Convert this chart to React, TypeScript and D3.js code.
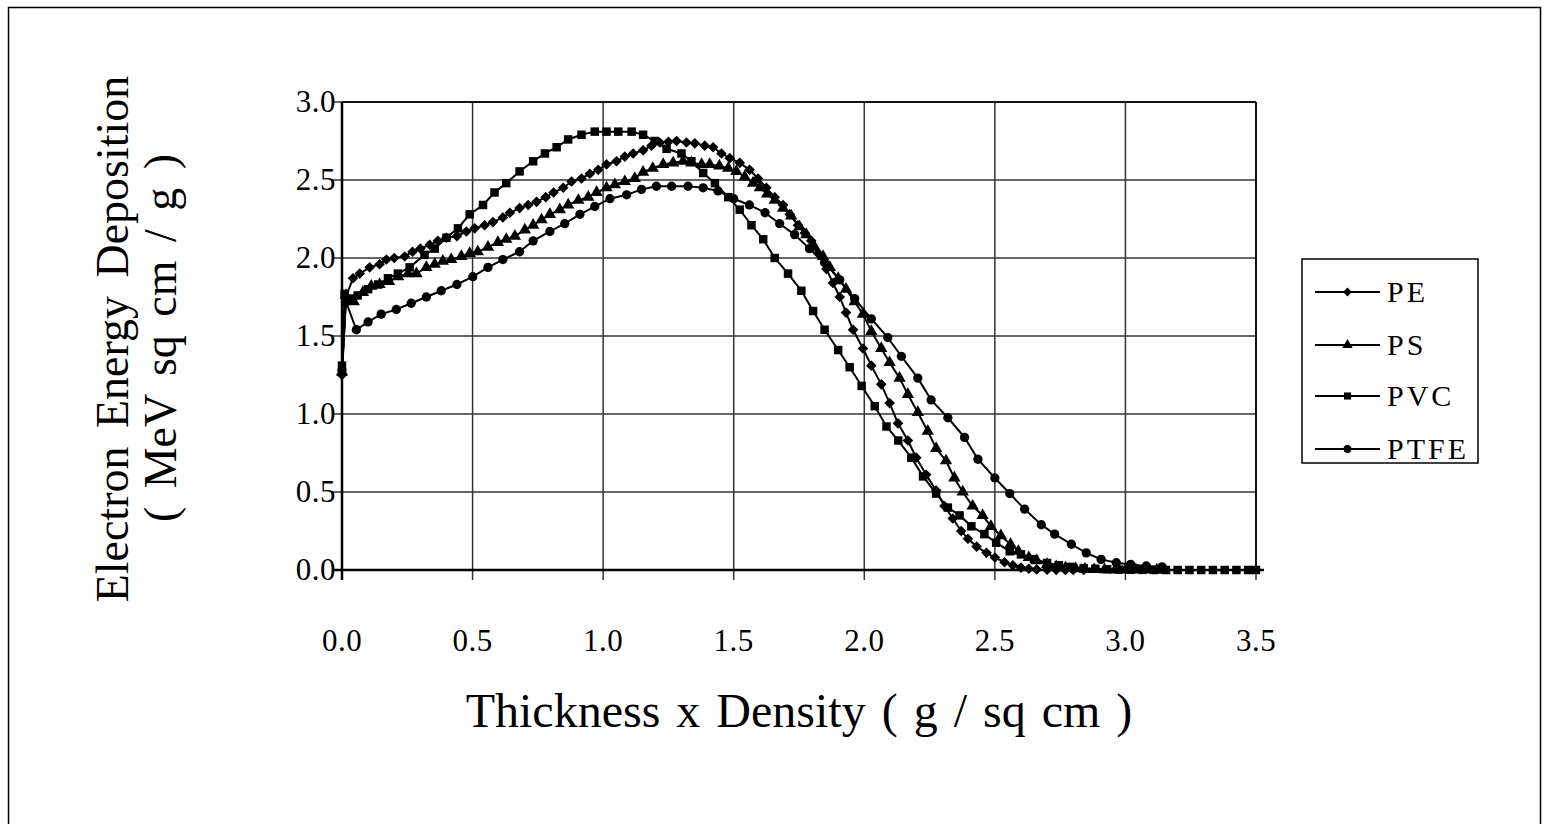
import React from 'react';
import * as d3 from 'd3';

// ---- Data ----
const peX = [0, 0.015, 0.042, 0.068, 0.106, 0.144, 0.17, 0.2, 0.24, 0.27, 0.3, 0.336, 0.367, 0.4, 0.44, 0.476, 0.508, 0.546, 0.578, 0.616, 0.643, 0.68, 0.713, 0.745, 0.78, 0.81, 0.847, 0.879, 0.917, 0.949, 0.981, 1.013, 1.051, 1.083, 1.115, 1.153, 1.185, 1.217, 1.25, 1.281, 1.319, 1.351, 1.389, 1.421, 1.453, 1.485, 1.523, 1.561, 1.593, 1.625, 1.657, 1.689, 1.714, 1.746, 1.772, 1.797, 1.823, 1.855, 1.88, 1.906, 1.93, 1.957, 1.995, 2.027, 2.065, 2.097, 2.129, 2.167, 2.199, 2.237, 2.275, 2.307, 2.339, 2.371, 2.397, 2.43, 2.468, 2.5, 2.537, 2.569, 2.6, 2.63, 2.66, 2.7, 2.735, 2.77, 2.8, 2.84];
const peY = [1.25, 1.75, 1.87, 1.9, 1.94, 1.96, 1.99, 2.0, 2.01, 2.04, 2.06, 2.085, 2.11, 2.13, 2.14, 2.17, 2.19, 2.21, 2.23, 2.26, 2.29, 2.32, 2.34, 2.36, 2.39, 2.42, 2.45, 2.49, 2.51, 2.54, 2.565, 2.6, 2.62, 2.65, 2.67, 2.69, 2.72, 2.74, 2.745, 2.75, 2.74, 2.735, 2.72, 2.71, 2.67, 2.64, 2.61, 2.565, 2.51, 2.45, 2.39, 2.34, 2.28, 2.21, 2.16, 2.11, 2.03, 1.93, 1.84, 1.75, 1.65, 1.54, 1.42, 1.31, 1.19, 1.07, 0.94, 0.83, 0.72, 0.61, 0.51, 0.41, 0.33, 0.25, 0.2, 0.15, 0.11, 0.08, 0.05, 0.03, 0.015, 0.008, 0.004, 0.002, 0.001, 0, 0, 0];

const psX = [0, 0.015, 0.045, 0.08, 0.112, 0.144, 0.18, 0.215, 0.253, 0.285, 0.323, 0.355, 0.386, 0.418, 0.457, 0.489, 0.52, 0.559, 0.597, 0.629, 0.662, 0.7, 0.732, 0.764, 0.796, 0.834, 0.866, 0.905, 0.943, 0.975, 1.013, 1.045, 1.083, 1.121, 1.153, 1.19, 1.23, 1.268, 1.306, 1.338, 1.377, 1.408, 1.445, 1.479, 1.51, 1.542, 1.574, 1.6, 1.628, 1.657, 1.689, 1.72, 1.752, 1.778, 1.81, 1.842, 1.868, 1.9, 1.93, 1.963, 1.995, 2.027, 2.065, 2.097, 2.135, 2.167, 2.205, 2.243, 2.275, 2.313, 2.345, 2.377, 2.415, 2.453, 2.485, 2.523, 2.56, 2.59, 2.63, 2.66, 2.7, 2.735, 2.77, 2.81, 2.845, 2.88, 2.92, 2.96, 3.0, 3.04, 3.08, 3.12, 3.15];
const psY = [1.27, 1.76, 1.72, 1.78, 1.82, 1.83, 1.85, 1.88, 1.9, 1.9, 1.94, 1.96, 1.98, 1.99, 2.01, 2.03, 2.04, 2.07, 2.1, 2.12, 2.14, 2.18, 2.21, 2.245, 2.28, 2.31, 2.34, 2.37, 2.39, 2.42, 2.45, 2.47, 2.49, 2.51, 2.55, 2.575, 2.6, 2.61, 2.62, 2.61, 2.6, 2.6, 2.59, 2.575, 2.555, 2.52, 2.48, 2.45, 2.41, 2.37, 2.32, 2.27, 2.2, 2.15, 2.07, 2.01, 1.94, 1.87, 1.8, 1.72, 1.64, 1.53, 1.42, 1.33, 1.23, 1.125, 1.01, 0.89, 0.78, 0.7, 0.59, 0.5, 0.41, 0.35, 0.28, 0.22, 0.165, 0.12, 0.08, 0.06, 0.036, 0.022, 0.014, 0.008, 0.005, 0.003, 0.002, 0.001, 0, 0, 0, 0, 0];

const pvcX = [0, 0.01, 0.03, 0.06, 0.1, 0.138, 0.176, 0.214, 0.259, 0.316, 0.355, 0.4, 0.444, 0.489, 0.54, 0.584, 0.629, 0.68, 0.732, 0.777, 0.822, 0.866, 0.917, 0.968, 1.013, 1.058, 1.109, 1.153, 1.198, 1.243, 1.3, 1.338, 1.383, 1.428, 1.479, 1.523, 1.568, 1.613, 1.657, 1.708, 1.759, 1.804, 1.848, 1.9, 1.944, 1.99, 2.04, 2.085, 2.13, 2.18, 2.225, 2.275, 2.32, 2.365, 2.41, 2.46, 2.505, 2.557, 2.6, 2.65, 2.7, 2.745, 2.79, 2.84, 2.885, 2.93, 2.975, 3.02, 3.065, 3.11, 3.155, 3.2, 3.245, 3.29, 3.335, 3.38, 3.425, 3.47, 3.5];
const pvcY = [1.31, 1.77, 1.74, 1.76, 1.8, 1.83, 1.87, 1.9, 1.94, 2.02, 2.06, 2.13, 2.19, 2.28, 2.34, 2.42, 2.48, 2.555, 2.62, 2.67, 2.71, 2.76, 2.79, 2.81, 2.81, 2.81, 2.81, 2.79, 2.75, 2.7, 2.67, 2.62, 2.545, 2.48, 2.39, 2.31, 2.21, 2.12, 2.0, 1.9, 1.79, 1.66, 1.54, 1.41, 1.3, 1.18, 1.05, 0.92, 0.83, 0.72, 0.6, 0.49, 0.4, 0.35, 0.28, 0.23, 0.175, 0.12, 0.1, 0.07, 0.045, 0.03, 0.02, 0.012, 0.008, 0.005, 0.003, 0.002, 0.001, 0, 0, 0, 0, 0, 0, 0, 0, 0, 0];

const ptfeX = [0, 0.015, 0.055, 0.1, 0.15, 0.208, 0.265, 0.323, 0.38, 0.44, 0.501, 0.559, 0.616, 0.68, 0.732, 0.796, 0.853, 0.911, 0.968, 1.026, 1.09, 1.147, 1.204, 1.262, 1.325, 1.383, 1.44, 1.5, 1.56, 1.62, 1.676, 1.733, 1.79, 1.848, 1.906, 1.963, 2.027, 2.09, 2.142, 2.205, 2.256, 2.32, 2.384, 2.435, 2.5, 2.557, 2.614, 2.678, 2.729, 2.793, 2.85, 2.907, 2.965, 3.02, 3.08, 3.14];
const ptfeY = [1.28, 1.72, 1.54, 1.59, 1.64, 1.67, 1.71, 1.75, 1.79, 1.83, 1.88, 1.94, 1.99, 2.04, 2.11, 2.17, 2.22, 2.28, 2.33, 2.38, 2.405, 2.44, 2.46, 2.46, 2.46, 2.45, 2.43, 2.38, 2.34, 2.29, 2.22, 2.15, 2.06, 1.97, 1.86, 1.74, 1.61, 1.49, 1.37, 1.23, 1.09, 0.976, 0.85, 0.71, 0.59, 0.49, 0.39, 0.29, 0.23, 0.165, 0.11, 0.068, 0.047, 0.036, 0.026, 0.02];

const seriesNames = ['PE', 'PS', 'PVC', 'PTFE'];
const xTicks = [0, 0.5, 1.0, 1.5, 2.0, 2.5, 3.0, 3.5];
const yTicks = [0, 0.5, 1.0, 1.5, 2.0, 2.5, 3.0];
const xTitle = 'Thickness x Density ( g / sq cm )';
const yTitle1 = 'Electron Energy Deposition';
const yTitle2 = '( MeV sq cm / g )';

const FONT = '"Liberation Serif", "Times New Roman", serif';

export default function App() {
  const left = 342, right = 1256, top = 102, bottom = 570;
  const x = d3.scaleLinear().domain([0, 3.5]).range([left, right]);
  const y = d3.scaleLinear().domain([0, 3]).range([bottom, top]);

  const data = [
    { name: seriesNames[0], xs: peX, ys: peY, sym: d3.symbolDiamond2, size: 72 },
    { name: seriesNames[1], xs: psX, ys: psY, sym: d3.symbolTriangle, size: 66 },
    { name: seriesNames[2], xs: pvcX, ys: pvcY, sym: d3.symbolSquare, size: 72 },
    { name: seriesNames[3], xs: ptfeX, ys: ptfeY, sym: d3.symbolCircle, size: 68 },
  ];

  const line = d3.line<[number, number]>().x(d => x(d[0])).y(d => y(d[1]));

  const legX = 1302, legY = 259, legW = 176, legH = 204;
  const legRowY = [292, 345, 396, 449];

  return (
    <svg width={1549} height={824} style={{ position: 'absolute', left: 0, top: 0, background: '#fff' }}
      fontFamily={FONT}>
      <rect x={0} y={0} width={1549} height={824} fill="#fff" />
      <rect x={8.5} y={7.5} width={1532} height={840} fill="none" stroke="#000" strokeWidth={1.5} />

      {/* gridlines */}
      {xTicks.map(t => (
        <line key={'gx' + t} x1={x(t)} x2={x(t)} y1={top} y2={bottom + 10} stroke="#333" strokeWidth={1.5} />
      ))}
      {yTicks.map(t => (
        <line key={'gy' + t} x1={left - 10} x2={right} y1={y(t)} y2={y(t)} stroke="#333" strokeWidth={1.5} />
      ))}
      {/* plot frame */}
      <line x1={left} x2={right} y1={top} y2={top} stroke="#111" strokeWidth={2} />
      <line x1={right} x2={right} y1={top} y2={bottom} stroke="#111" strokeWidth={2} />
      <line x1={left} x2={left} y1={top} y2={bottom + 10} stroke="#000" strokeWidth={2.5} />
      <line x1={left - 10} x2={right + 8} y1={bottom} y2={bottom} stroke="#000" strokeWidth={2.5} />

      {/* tick labels */}
      {xTicks.map(t => (
        <text key={'xl' + t} x={x(t)} y={651} textAnchor="middle" fontSize={31} letterSpacing={0.5}>{t.toFixed(1)}</text>
      ))}
      {yTicks.map(t => (
        <text key={'yl' + t} x={336} y={y(t) + 10} textAnchor="end" fontSize={31} letterSpacing={0.5}>{t.toFixed(1)}</text>
      ))}

      {/* axis titles */}
      <text x={799} y={727} textAnchor="middle" fontSize={48} wordSpacing={4}>{xTitle}</text>
      <text transform="translate(128,339) rotate(-90)" textAnchor="middle" fontSize={46} wordSpacing={7}>{yTitle1}</text>
      <text transform="translate(176,338) rotate(-90)" textAnchor="middle" fontSize={46} wordSpacing={7}>{yTitle2}</text>

      {/* series */}
      {data.map(s => {
        const pts: [number, number][] = s.xs.map((v, i) => [v, s.ys[i]]);
        const sym = d3.symbol().type(s.sym).size(s.size)();
        return (
          <g key={s.name}>
            <path d={line(pts) || ''} fill="none" stroke="#000" strokeWidth={2} />
            {pts.map((p, i) => (
              <path key={i} d={sym || ''} transform={`translate(${x(p[0])},${y(p[1])})`} fill="#000" />
            ))}
          </g>
        );
      })}

      {/* legend */}
      <rect x={legX} y={legY} width={legW} height={legH} fill="#fff" stroke="#000" strokeWidth={1.5} />
      {data.map((s, i) => {
        const sym = d3.symbol().type(s.sym).size(s.size * 0.7)();
        return (
          <g key={'leg' + s.name}>
            <line x1={1315} x2={1380} y1={legRowY[i]} y2={legRowY[i]} stroke="#000" strokeWidth={2} />
            <path d={sym || ''} transform={`translate(1347.5,${legRowY[i]})`} fill="#000" />
            <text x={1387} y={legRowY[i] + 10} fontSize={30} letterSpacing={3}>{s.name}</text>
          </g>
        );
      })}
    </svg>
  );
}
